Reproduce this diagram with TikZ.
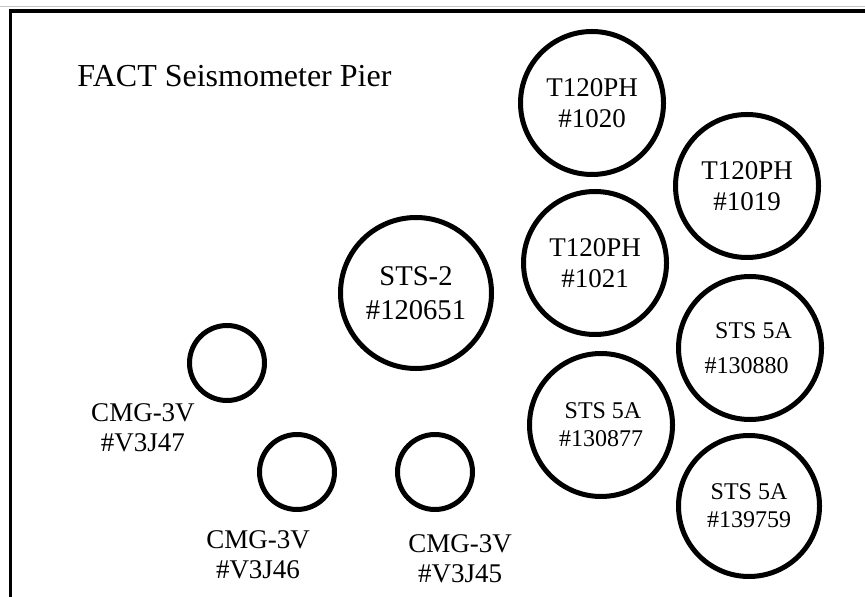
\documentclass[tikz,border=0pt]{standalone}
\usepackage{fontspec}
\setmainfont{Liberation Serif}
\begin{document}
\begin{tikzpicture}[x=0.5pt,y=-0.5pt]
\useasboundingbox (0,0) rectangle (865,597);
% page edge and frame
\draw[gray!45,line width=0.5pt] (0,7) -- (865,7);
\draw[line width=1.8pt] (10.3,600) -- (10.3,11.3) -- (866,11.3);
\node[anchor=base west,inner sep=0pt,font=\fontsize{16}{19}\selectfont] (title) at (77,87) {FACT Seismometer Pier};
\begin{scope}[every node/.style={circle,draw,line width=2.5pt,inner sep=0pt,align=center}]
  \node[minimum size=71.5pt,font=\fontsize{13.5}{15.5}\selectfont] (t1020) at (592,103) {T120PH\\\#1020};
  \node[minimum size=71.5pt,font=\fontsize{13.5}{15.5}\selectfont] (t1019) at (747,186) {T120PH\\\#1019};
  \node[minimum size=71.5pt,font=\fontsize{13.5}{15.5}\selectfont] (t1021) at (595,263) {T120PH\\\#1021};
  \node[minimum size=75.5pt,font=\fontsize{14.3}{17}\selectfont] (sts2) at (416,293) {STS-2\\\#120651};
  \node[minimum size=71.5pt,font=\fontsize{12}{17.5}\selectfont] (s130880) at (750,348) {\hspace*{3.5pt}STS 5A\\\#130880\hspace*{3.5pt}};
  \node[minimum size=71.5pt,font=\fontsize{12}{14}\selectfont] (s130877) at (601,425) {\hspace*{2pt}STS 5A\\\#130877};
  \node[minimum size=70.5pt,font=\fontsize{12}{14}\selectfont] (s139759) at (749,506) {STS 5A\\\#139759};
  \node[minimum size=37.5pt] (cmg47) at (227,363) {};
  \node[minimum size=37.5pt] (cmg46) at (297,472) {};
  \node[minimum size=37.5pt] (cmg45) at (435,472) {};
\end{scope}
\begin{scope}[every node/.style={inner sep=0pt,align=center,font=\fontsize{13.5}{14.8}\selectfont}]
  \node (l47) at (143,428) {CMG-3V\\\#V3J47};
  \node (l46) at (258,555) {CMG-3V\\\#V3J46};
  \node (l45) at (460,559) {CMG-3V\\\#V3J45};
\end{scope}
\end{tikzpicture}
\end{document}
